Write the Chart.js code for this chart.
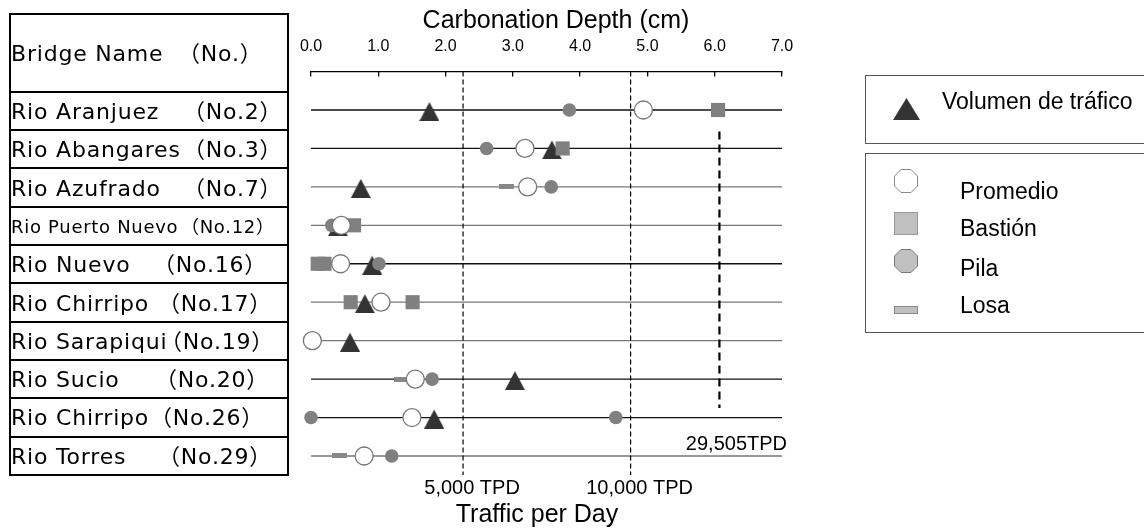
<!DOCTYPE html>
<html>
<head>
<meta charset="utf-8">
<script src="https://cdn.jsdelivr.net/npm/chart.js@4.4.1/dist/chart.umd.min.js"></script>
<style>
    body { margin: 0; background: #fff; }
    #wrap { position: relative; width: 1144px; height: 530px; overflow: hidden; }
    #chart { position: absolute; left: 0; top: 0; }
    .cell { position: absolute; left: 9px; width: 280px; border: 2px solid #000; box-sizing: border-box;
            font-family: "DejaVu Sans", "Noto Sans CJK JP", sans-serif; font-size: 22px; letter-spacing: 0.8px;
            color: #000; white-space: pre; }
    .cell span { position: absolute; top: 50%; height: 28px; line-height: 28px; margin-top: -13px; }
    .box { position: absolute; left: 865px; width: 320px; border: 1.5px solid #555; box-sizing: border-box; }
    .lg { position: absolute; font-family: "Liberation Sans", Arial, sans-serif; font-size: 23px; color: #000;
          white-space: pre; line-height: 26px; height: 26px; }
    .ic { position: absolute; }
</style>
</head>
<body>
<div id="wrap">
    <canvas id="chart" width="1144" height="530"></canvas>
    <div id="table"></div>
    <div id="legend"></div>
</div>
<script>
// bridges (rows, top to bottom)
const bridgeNames = ["Rio Aranjuez", "Rio Abangares", "Rio Azufrado", "Rio Puerto Nuevo", "Rio Nuevo",
                     "Rio Chirripo", "Rio Sarapiqui", "Rio Sucio", "Rio Chirripo", "Rio Torres"];
const bridgeNos = ["No.2", "No.3", "No.7", "No.12", "No.16", "No.17", "No.19", "No.20", "No.26", "No.29"];

// carbonation depth (cm), per bridge
const promedio = [4.94, 3.18, 3.22, 0.45, 0.44, 1.04, 0.02, 1.55, 1.50, 0.79];
const bastion = [[6.05], [3.74], [], [0.64], [0.10, 0.20], [0.59, 1.51], [], [], [], []];
const pila = [[3.84], [2.61], [3.57], [0.31], [1.01], [], [], [1.80], [0.00, 4.53], [1.20]];
const losa = [[], [], [2.91], [], [], [], [], [1.35], [], [0.42]];

// traffic volume, drawn on the same axis
const trafico = [1.76, 3.58, 0.74, 0.40, 0.91, 0.80, 0.58, 3.03, 1.83, null];

// traffic reference lines
const tpdRefs = [2.26, 4.75];
const tpdRefLabels = ["5,000 TPD", "10,000 TPD"];
const tpdMax = 6.07;
const tpdMaxLabel = "29,505TPD";

// axis
const depthTicks = [0, 1, 2, 3, 4, 5, 6, 7];

document.addEventListener("DOMContentLoaded", () => {
    const rowLineColors = ["#111", "#111", "#777", "#777", "#111", "#777", "#777", "#111", "#111", "#777"];
    const FONT = "Liberation Sans";

    // left table
    const table = document.getElementById("table");
    const noLeft = [172, 172, 172, 170, 142, 147, 149, 144, 139, 147];
    const edges = [14.3, 91.7];
    for (let i = 1; i <= bridgeNames.length; i++) edges.push(91.7 + i * 38.33);
    const addCell = (top, h, name, no, left, small) => {
        const d = document.createElement("div");
        d.className = "cell";
        d.style.top = (top - 1) + "px";
        d.style.height = (h + 2) + "px";
        if (small) { d.style.fontSize = "18px"; d.style.letterSpacing = "0.7px"; }
        d.innerHTML = `<span style="left:0px">${name}</span><span style="left:${left}px">（${no}）</span>`;
        table.appendChild(d);
    };
    addCell(edges[0], edges[1] - edges[0], "Bridge Name", "No.", 167);
    bridgeNames.forEach((n, i) => {
        addCell(edges[i + 1], edges[i + 2] - edges[i + 1], n, bridgeNos[i], noLeft[i], i === 3);
    });

    // legend
    const oct = (fill, stroke) => `<svg width="24" height="24"><polygon points="7,0.5 17,0.5 23.5,7 23.5,17 17,23.5 7,23.5 0.5,17 0.5,7" fill="${fill}" stroke="${stroke}" stroke-width="1"/></svg>`;
    document.getElementById("legend").innerHTML = `
        <div class="box" style="top:75px;height:69px"></div>
        <div class="box" style="top:153px;height:180px"></div>
        <svg class="ic" style="left:893px;top:98px" width="27" height="22"><polygon points="13.5,0 27,22 0,22" fill="#333"/></svg>
        <div class="lg" style="left:942px;top:88px">Volumen de tráfico</div>
        <div class="ic" style="left:894px;top:169px">${oct("#fff", "#888")}</div>
        <div class="lg" style="left:960px;top:178px">Promedio</div>
        <svg class="ic" style="left:894px;top:212px" width="24" height="23"><rect x="0.5" y="0.5" width="23" height="22" fill="#c0c0c0" stroke="#999"/></svg>
        <div class="lg" style="left:960px;top:215px">Bastión</div>
        <div class="ic" style="left:894px;top:249px">${oct("#c0c0c0", "#777")}</div>
        <div class="lg" style="left:960px;top:255px">Pila</div>
        <svg class="ic" style="left:894px;top:306px" width="24" height="8"><rect x="0.5" y="0.5" width="23" height="7" fill="#c0c0c0" stroke="#888"/></svg>
        <div class="lg" style="left:960px;top:292px">Losa</div>`;

    // marker images
    const triImg = document.createElement("canvas");
    triImg.width = 20; triImg.height = 22;
    let g = triImg.getContext("2d");
    g.fillStyle = "#333";
    g.beginPath(); g.moveTo(10, 3); g.lineTo(20, 22); g.lineTo(0, 22); g.closePath(); g.fill();
    const losaImg = document.createElement("canvas");
    losaImg.width = 15; losaImg.height = 5;
    g = losaImg.getContext("2d");
    g.fillStyle = "#888"; g.fillRect(0, 0, 15, 5);

    const flat = (lists) => lists.flatMap((vals, i) => vals.map(v => ({ x: v, y: i + 1 })));
    const marks = (label, data, extra) => Object.assign({ type: "scatter", label, data, borderWidth: 0, clip: false }, extra);

    const datasets = [
        marks("Promedio", promedio.map((v, i) => ({ x: v, y: i + 1 })),
            { pointStyle: "circle", pointRadius: 9, backgroundColor: "#fff", borderColor: "#777", borderWidth: 1.3 }),
        marks("Pila", flat(pila), { pointStyle: "circle", pointRadius: 6.8, backgroundColor: "#808080" }),
        marks("Bastión", flat(bastion), { pointStyle: "rect", pointRadius: 10, backgroundColor: "#808080" }),
        marks("Volumen de tráfico", trafico.map((v, i) => v === null ? null : ({ x: v, y: i + 1 })).filter(p => p),
            { pointStyle: triImg, pointRadius: 10 }),
        marks("Losa", flat(losa), { pointStyle: losaImg, pointRadius: 8 })
    ];
    // dashed traffic lines
    tpdRefs.forEach(v => datasets.push({
        type: "line", data: [{ x: v, y: 0 }, { x: v, y: 10.5 }], borderColor: "#000", borderWidth: 1.2,
        borderDash: [5, 3], pointRadius: 0
    }));
    datasets.push({
        type: "line", data: [{ x: tpdMax, y: 1.56 }, { x: tpdMax, y: 8.75 }], borderColor: "#000", borderWidth: 2.2,
        borderDash: [8, 5], pointRadius: 0
    });
    // one line per bridge
    bridgeNames.forEach((n, i) => datasets.push({
        type: "line", data: [{ x: depthTicks[0], y: i + 1 }, { x: depthTicks[depthTicks.length - 1], y: i + 1 }],
        borderColor: rowLineColors[i], borderWidth: 1.3, pointRadius: 0
    }));

    const textPlugin = {
        id: "texts",
        afterDraw(chart) {
            const c = chart.ctx, xs = chart.scales.x, ys = chart.scales.y, area = chart.chartArea;
            c.save();
            c.fillStyle = "#000";
            c.textAlign = "center";
            c.textBaseline = "middle";
            c.font = `25px "${FONT}"`;
            c.fillText("Carbonation Depth (cm)", 556, 21);
            c.fillText("Traffic per Day", 537, 515);
            c.font = `20px "${FONT}"`;
            tpdRefs.forEach((v, i) => c.fillText(tpdRefLabels[i], xs.getPixelForValue(v) + 9, area.bottom + 13));
            c.textAlign = "right";
            c.fillText(tpdMaxLabel, xs.getPixelForValue(7) + 5, ys.getPixelForValue(9.71));
            c.restore();
        }
    };

    new Chart(document.getElementById("chart"), {
        type: "scatter",
        data: { datasets },
        options: {
            responsive: false,
            animation: false,
            events: [],
            layout: { padding: { left: 311, right: 362, top: 0, bottom: 54.8 } },
            plugins: { legend: { display: false }, tooltip: { enabled: false } },
            scales: {
                x: {
                    type: "linear", position: "top", min: 0, max: 7,
                    afterBuildTicks: s => { s.ticks = depthTicks.map(v => ({ value: v })); },
                    afterFit: s => { s.height = 71.56; },
                    ticks: {
                        callback: v => Number(v).toFixed(1), color: "#000", padding: 20,
                        font: { family: FONT, size: 16 }, maxRotation: 0, autoSkip: false
                    },
                    grid: { display: true, drawOnChartArea: false, drawTicks: true, tickLength: -5, color: "#000", lineWidth: 1.3 },
                    border: { display: true, color: "#000", width: 1.3 }
                },
                y: { type: "linear", display: false, min: 0, max: 10.5, reverse: true }
            }
        },
        plugins: [textPlugin]
    });
});
</script>
</body>
</html>
